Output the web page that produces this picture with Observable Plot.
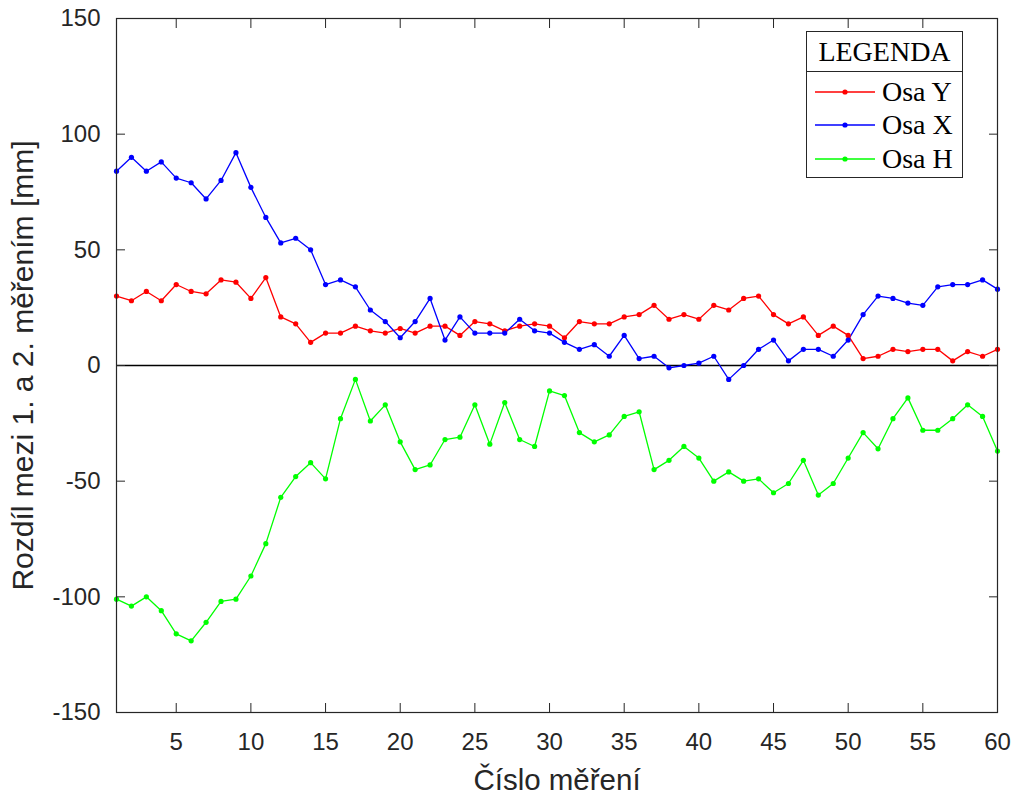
<!DOCTYPE html>
<html>
<head>
<meta charset="utf-8">
<script src="https://cdn.jsdelivr.net/npm/d3@7"></script>
<script src="https://cdn.jsdelivr.net/npm/@observablehq/plot@0.6"></script>
<style>
  html, body { margin: 0; padding: 0; background: #ffffff; }
  #wrap { position: relative; width: 1017px; height: 798px; }
  #legend {
    position: absolute; left: 806px; top: 31px; width: 157px; height: 147px;
    border: 1px solid #262626; background: #fff; box-sizing: border-box;
    font-family: "Liberation Serif", "Times New Roman", serif; color: #000;
  }
  #legend .head { height: 39px; border-bottom: 1px solid #262626; text-align: center;
    font-size: 28px; line-height: 40px; }
  #legend .row { position: absolute; left: 0; height: 34px; display: flex; align-items: center; font-size: 28px; }
  #legend svg { display: block; margin-left: 8px; margin-right: 7px; }
</style>
</head>
<body>
<div id="wrap"></div>
<script>
// ---- data ----
const measurement = d3.range(1, 61);
const osaY = [30,28,32,28,35,32,31,37,36,29,38,21,18,10,14,14,17,15,14,16,
              14,17,17,13,19,18,15,17,18,17,12,19,18,18,21,22,26,20,22,20,
              26,24,29,30,22,18,21,13,17,13,3,4,7,6,7,7,2,6,4,7];
const osaX = [84,90,84,88,81,79,72,80,92,77,64,53,55,50,35,37,34,24,19,12,
              19,29,11,21,14,14,14,20,15,14,10,7,9,4,13,3,4,-1,0,1,
              4,-6,0,7,11,2,7,7,4,11,22,30,29,27,26,34,35,35,37,33];
const osaH = [-101,-104,-100,-106,-116,-119,-111,-102,-101,-91,-77,-57,-48,-42,-49,-23,-6,-24,-17,-33,
              -45,-43,-32,-31,-17,-34,-16,-32,-35,-11,-13,-29,-33,-30,-22,-20,-45,-41,-35,-40,
              -50,-46,-50,-49,-55,-51,-41,-56,-51,-40,-29,-36,-23,-14,-28,-28,-23,-17,-22,-37];
const seriesNames = ["Osa Y", "Osa X", "Osa H"];
const seriesColors = ["#ff0000", "#0000ff", "#00ff00"];
const seriesValues = [osaY, osaX, osaH];
const xTicks = [5,10,15,20,25,30,35,40,45,50,55,60];
const yTicks = [-150,-100,-50,0,50,100,150];
const xLabel = "Číslo měření";
const yLabel = "Rozdíl mezi 1. a 2. měřením [mm]";
const legendTitle = "LEGENDA";

const data = seriesNames.flatMap((s, k) =>
  seriesValues[k].map((v, i) => ({n: measurement[i], v, s})));

const axisColor = "#262626";
const fmt = d => String(d);
const chart = Plot.plot({
  width: 1017, height: 798,
  marginLeft: 116, marginRight: 20, marginTop: 18, marginBottom: 86,
  style: {fontFamily: "'Liberation Sans', Arial, Helvetica, sans-serif", color: axisColor, background: "#fff"},
  x: {domain: [1, 60], label: null},
  y: {domain: [-150, 150], label: null},
  color: {domain: seriesNames, range: seriesColors},
  marks: [
    Plot.ruleY([0], {stroke: "#000", strokeWidth: 1.4}),
    Plot.line(data, {x: "n", y: "v", z: "s", stroke: "s", strokeWidth: 1.3}),
    Plot.dot(data, {x: "n", y: "v", fill: "s", r: 2.6}),
    Plot.frame({stroke: axisColor, strokeWidth: 1.2}),
    Plot.axisX(xTicks, {tickSize: 0, tickPadding: 20, fontSize: 24, label: null, tickFormat: fmt}),
    Plot.axisX(xTicks, {tickSize: -9, text: null, label: null, stroke: axisColor}),
    Plot.axisX(xTicks, {anchor: "top", tickSize: -9, text: null, label: null, stroke: axisColor}),
    Plot.axisY(yTicks, {tickSize: 0, tickPadding: 16, fontSize: 24, label: null, tickFormat: fmt}),
    Plot.axisY(yTicks, {tickSize: -9, text: null, label: null, stroke: axisColor}),
    Plot.axisY(yTicks, {anchor: "right", tickSize: -9, text: null, label: null, stroke: axisColor}),
    Plot.text([xLabel], {frameAnchor: "bottom", dy: 68, lineAnchor: "middle", textAnchor: "middle", fontSize: 29.5, fill: axisColor}),
    Plot.text([yLabel], {frameAnchor: "left", dx: -93, rotate: -90, lineAnchor: "middle", textAnchor: "middle", fontSize: 30, fill: axisColor})
  ]
});

const wrap = document.getElementById("wrap");
wrap.appendChild(chart);

// legend
const legend = document.createElement("div");
legend.id = "legend";
const head = document.createElement("div");
head.className = "head";
head.textContent = legendTitle;
legend.appendChild(head);
seriesNames.forEach((name, k) => {
  const row = document.createElement("div");
  row.className = "row";
  row.style.top = (43 + k * 33.3) + "px";
  const ns = "http://www.w3.org/2000/svg";
  const svg = document.createElementNS(ns, "svg");
  svg.setAttribute("width", 60); svg.setAttribute("height", 10);
  const ln = document.createElementNS(ns, "line");
  ln.setAttribute("x1", 0); ln.setAttribute("x2", 60); ln.setAttribute("y1", 5); ln.setAttribute("y2", 5);
  ln.setAttribute("stroke", seriesColors[k]); ln.setAttribute("stroke-width", 1.3);
  const c = document.createElementNS(ns, "circle");
  c.setAttribute("cx", 30); c.setAttribute("cy", 5); c.setAttribute("r", 2.6);
  c.setAttribute("fill", seriesColors[k]);
  svg.appendChild(ln); svg.appendChild(c);
  const t = document.createElement("span");
  t.textContent = name;
  row.appendChild(svg); row.appendChild(t);
  legend.appendChild(row);
});
wrap.appendChild(legend);
</script>
</body>
</html>
